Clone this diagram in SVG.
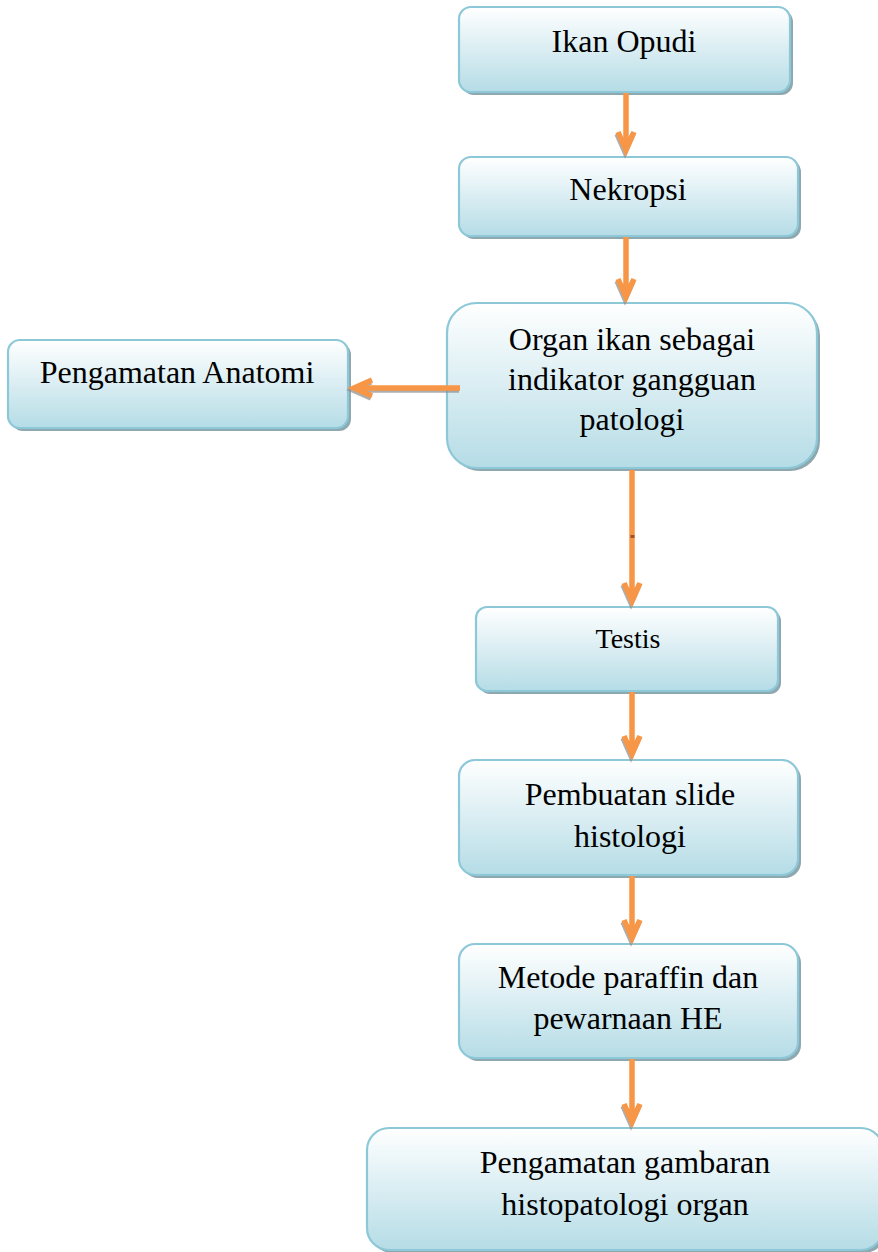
<svg xmlns="http://www.w3.org/2000/svg" width="878" height="1252" viewBox="0 0 878 1252">
<defs>
<linearGradient id="g" x1="0" y1="0" x2="0" y2="1">
<stop offset="0" stop-color="#ffffff"/>
<stop offset="1" stop-color="#b5dce6"/>
</linearGradient>
<style>
.box{fill:url(#g);stroke:#8cc8d8;stroke-width:2.2}
.sh{fill:#8fa7ae}
.t{font-family:"Liberation Serif","Times New Roman",serif;font-size:32px;fill:#000;text-anchor:middle}
.a{fill:none;stroke:#f79646;stroke-width:5.5;stroke-linejoin:miter}
.as{fill:none;stroke:#8c8c8c;stroke-width:5.5;stroke-linejoin:miter;opacity:.7}
</style>
</defs>
<rect width="878" height="1252" fill="#fff"/>

<g id="n1">
<rect class="sh" x="462" y="10" width="331" height="85" rx="12"/>
<rect class="box" x="459" y="7" width="331" height="85" rx="12"/>
<text class="t" x="624" y="52">Ikan Opudi</text>
</g>
<g id="n2">
<rect class="sh" x="462" y="160" width="339" height="79" rx="12"/>
<rect class="box" x="459" y="157" width="339" height="79" rx="12"/>
<text class="t" x="628" y="200">Nekropsi</text>
</g>
<g id="n3">
<rect class="sh" x="450" y="306" width="370" height="165" rx="30"/>
<rect class="box" x="447" y="303" width="370" height="165" rx="30"/>
<text class="t" x="632" y="350">Organ ikan sebagai</text>
<text class="t" x="632" y="390">indikator gangguan</text>
<text class="t" x="632" y="430">patologi</text>
</g>
<g id="n4">
<rect class="sh" x="11" y="343" width="340" height="88" rx="12"/>
<rect class="box" x="8" y="340" width="340" height="88" rx="12"/>
<text class="t" x="177" y="383">Pengamatan Anatomi</text>
</g>
<g id="n5">
<rect class="sh" x="479" y="610" width="302" height="84" rx="11"/>
<rect class="box" x="476" y="607" width="302" height="84" rx="11"/>
<text class="t" x="628" y="648" style="font-size:28px">Testis</text>
</g>
<g id="n6">
<rect class="sh" x="462" y="763" width="339" height="115" rx="16"/>
<rect class="box" x="459" y="760" width="339" height="115" rx="16"/>
<text class="t" x="630" y="805">Pembuatan slide</text>
<text class="t" x="630" y="847">histologi</text>
</g>
<g id="n7">
<rect class="sh" x="462" y="947" width="339" height="114" rx="16"/>
<rect class="box" x="459" y="944" width="339" height="114" rx="16"/>
<text class="t" x="628" y="988">Metode paraffin dan</text>
<text class="t" x="628" y="1029">pewarnaan HE</text>
</g>
<g id="n8">
<rect class="sh" x="370" y="1131" width="516" height="122" rx="22"/>
<rect class="box" x="367" y="1128" width="516" height="122" rx="22"/>
<text class="t" x="625" y="1173">Pengamatan gambaran</text>
<text class="t" x="625" y="1215">histopatologi organ</text>
</g>

<g id="connectors">
<g transform="translate(-1,2)">
<path class="as" d="M618,132 L626,150 L634,132"/>
<path class="as" d="M618,279 L626,297 L634,279"/>
<path class="as" d="M624,583 L632,601 L640,583"/>
<path class="as" d="M624,736 L632,754 L640,736"/>
<path class="as" d="M624,920 L632,938 L640,920"/>
<path class="as" d="M624,1104 L632,1122 L640,1104"/>
<path class="as" d="M460,388 L356,388 M372,380 L354,388 L372,396"/>
</g>
<path class="a" d="M626,93 V150 M618,132 L626,150 L634,132"/>
<path class="a" d="M626,237 V297 M618,279 L626,297 L634,279"/>
<path class="a" d="M632,470 V601 M624,583 L632,601 L640,583"/>
<path class="a" d="M632,692 V754 M624,736 L632,754 L640,736"/>
<path class="a" d="M632,876 V938 M624,920 L632,938 L640,920"/>
<path class="a" d="M632,1059 V1122 M624,1104 L632,1122 L640,1104"/>
<path class="a" d="M460,388 L356,388 M372,380 L354,388 L372,396"/>
<rect x="630.5" y="535" width="4" height="3" fill="#a0522d"/>
</g>
</svg>
